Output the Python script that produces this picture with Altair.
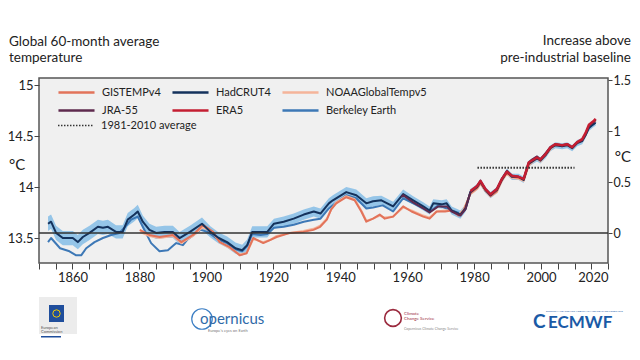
import altair as alt
import pandas as pd

# ---------------- data ----------------
# legend order (Vega fills the 2-row legend column by column)
series_order = ["GISTEMPv4", "JRA-55", "HadCRUT4", "ERA5", "NOAAGlobalTempv5", "Berkeley Earth"]
series_colors = ["#e2735a", "#5e2a4e", "#14325c", "#c41e32", "#f5b49a", "#3d78b6"]

post_years = [1980.9, 1981.9, 1983.4, 1984.9, 1986.8, 1988.3, 1989.8, 1991.3, 1993.3, 1994.8,
              1996.3, 1997.3, 1998.8, 1999.8, 2001.3, 2002.8, 2004.3, 2006.3, 2007.8, 2009.3,
              2010.8, 2012.3, 2013.3, 2014.3, 2015.8, 2016.3]

had_years = [1852.7, 1853.6, 1855.1, 1857.1, 1860.1, 1861.6, 1863.1, 1865.1, 1867.6, 1869.1,
             1870.6, 1873.0, 1875.0, 1876.5, 1878.5, 1879.5, 1881.0, 1883.0, 1885.0, 1887.5,
             1890.0, 1892.0, 1895.1, 1898.7, 1901.2, 1903.7, 1906.2, 1908.7, 1910.7, 1912.2,
             1913.7, 1916.2, 1918.2, 1920.2, 1923.1, 1926.1, 1929.1, 1932.1, 1934.1, 1936.6,
             1937.8, 1941.8, 1944.8, 1947.8, 1949.8, 1952.3, 1955.8, 1958.8, 1961.8, 1964.8,
             1966.7, 1967.8, 1970.3, 1971.8, 1973.3, 1975.9, 1977.4, 1978.9] + post_years
had_temp = [13.64, 13.66, 13.55, 13.50, 13.50, 13.46, 13.51, 13.55, 13.61, 13.60,
            13.61, 13.56, 13.56, 13.68, 13.73, 13.76, 13.66, 13.58, 13.55, 13.56,
            13.56, 13.50, 13.56, 13.64, 13.56, 13.50, 13.46, 13.40, 13.38, 13.43,
            13.56, 13.56, 13.56, 13.64, 13.66, 13.69, 13.73, 13.76, 13.74, 13.84,
            13.87, 13.95, 13.92, 13.84, 13.86, 13.87, 13.81, 13.93, 13.87, 13.81,
            13.77, 13.84, 13.83, 13.84, 13.77, 13.73, 13.79, 13.95,
            14.00, 14.05, 13.97, 13.92, 13.97, 14.07, 14.15, 14.10, 14.10, 14.07,
            14.23, 14.25, 14.28, 14.26, 14.31, 14.38, 14.41, 14.40, 14.41, 14.38,
            14.43, 14.45, 14.51, 14.58, 14.62, 14.63]
had_unc = [0.07, 0.07, 0.07, 0.07, 0.07, 0.07, 0.07, 0.07, 0.07, 0.07,
           0.07, 0.065, 0.065, 0.065, 0.065, 0.065, 0.06, 0.06, 0.06, 0.06,
           0.06, 0.06, 0.06, 0.06, 0.055, 0.055, 0.055, 0.055, 0.055, 0.055,
           0.055, 0.055, 0.055, 0.05, 0.05, 0.05, 0.05, 0.05, 0.05, 0.05,
           0.05, 0.05, 0.055, 0.05, 0.05, 0.045, 0.045, 0.045, 0.04, 0.04,
           0.04, 0.04, 0.04, 0.04, 0.04, 0.04, 0.035, 0.03,
           0.03, 0.03, 0.03, 0.03, 0.03, 0.03, 0.03, 0.03, 0.03, 0.03,
           0.03, 0.03, 0.03, 0.03, 0.03, 0.03, 0.03, 0.03, 0.03, 0.03,
           0.03, 0.03, 0.03, 0.03, 0.03, 0.03]

bk_years = [1852.7, 1853.6, 1856.3, 1859.1, 1861.1, 1862.6, 1864.1, 1866.6, 1869.1, 1871.6,
            1874.0, 1875.5, 1877.5, 1879.5, 1881.0, 1883.5, 1886.0, 1888.5, 1891.0, 1893.0,
            1894.2, 1898.2, 1900.4, 1903.7, 1906.2, 1908.7, 1910.7, 1912.2, 1913.7, 1916.2,
            1918.2, 1920.2, 1923.1, 1926.1, 1929.1, 1932.1, 1934.1, 1936.6, 1937.8, 1941.8,
            1944.8, 1947.8, 1949.8, 1952.7, 1955.8, 1958.8, 1961.8, 1964.8, 1966.7, 1969.3,
            1971.8, 1973.3, 1975.9, 1977.4, 1978.9] + post_years
bk_temp = [13.46, 13.50, 13.40, 13.37, 13.33, 13.33, 13.40, 13.46, 13.50, 13.53,
           13.55, 13.60, 13.68, 13.71, 13.61, 13.45, 13.37, 13.38, 13.45, 13.43,
           13.48, 13.58, 13.56, 13.48, 13.45, 13.39, 13.37, 13.42, 13.54, 13.53,
           13.54, 13.60, 13.61, 13.63, 13.66, 13.68, 13.69, 13.79, 13.82, 13.92,
           13.89, 13.79, 13.80, 13.82, 13.76, 13.89, 13.84, 13.79, 13.76, 13.82,
           13.79, 13.77, 13.74, 13.78, 13.95,
           14.01, 14.04, 13.96, 13.93, 13.98, 14.08, 14.14, 14.11, 14.09, 14.08,
           14.22, 14.26, 14.29, 14.27, 14.32, 14.39, 14.41, 14.41, 14.42, 14.39,
           14.43, 14.46, 14.51, 14.59, 14.62, 14.64]

gis_years = [1880.1, 1883.0, 1886.0, 1890.0, 1892.5, 1896.0, 1899.0, 1902.0, 1904.0, 1907.0,
             1910.0, 1912.0, 1914.0, 1917.0, 1919.0, 1921.0, 1925.0, 1929.0, 1932.0, 1934.0,
             1936.0, 1937.3, 1938.8, 1941.8, 1944.3, 1946.3, 1947.8, 1949.8, 1951.8, 1953.3,
             1955.8, 1958.8, 1961.3, 1964.8, 1966.7, 1968.8, 1971.3, 1973.3, 1975.4, 1976.9,
             1978.9] + post_years
gis_temp = [13.58, 13.53, 13.51, 13.53, 13.46, 13.53, 13.63, 13.56, 13.46, 13.41,
            13.33, 13.35, 13.50, 13.45, 13.48, 13.51, 13.55, 13.56, 13.58, 13.61,
            13.68, 13.78, 13.84, 13.90, 13.87, 13.76, 13.66, 13.69, 13.73, 13.69,
            13.71, 13.81, 13.76, 13.71, 13.69, 13.76, 13.76, 13.77, 13.72, 13.77,
            13.94,
            13.99, 14.04, 13.97, 13.91, 13.96, 14.07, 14.14, 14.10, 14.09, 14.07,
            14.22, 14.25, 14.29, 14.26, 14.32, 14.38, 14.42, 14.41, 14.42, 14.39,
            14.44, 14.46, 14.52, 14.60, 14.64, 14.66]

noaa_years = gis_years
noaa_temp = [13.56, 13.52, 13.50, 13.52, 13.45, 13.52, 13.61, 13.55, 13.46, 13.40,
             13.34, 13.35, 13.49, 13.46, 13.48, 13.52, 13.55, 13.57, 13.59, 13.62,
             13.69, 13.78, 13.85, 13.91, 13.88, 13.77, 13.67, 13.69, 13.72, 13.70,
             13.71, 13.80, 13.77, 13.72, 13.70, 13.76, 13.77, 13.77, 13.73, 13.78,
             13.93,
             13.98, 14.03, 13.96, 13.91, 13.95, 14.06, 14.13, 14.09, 14.08, 14.06,
             14.21, 14.24, 14.28, 14.25, 14.31, 14.37, 14.41, 14.40, 14.41, 14.38,
             14.43, 14.45, 14.51, 14.59, 14.63, 14.65]

jra_years = [1958.3, 1958.8, 1961.8, 1964.8, 1966.7, 1969.3, 1971.8, 1973.3, 1975.9, 1977.4,
             1978.9] + post_years
jra_temp = [13.90, 13.92, 13.85, 13.79, 13.75, 13.81, 13.81, 13.76, 13.72, 13.78,
            13.95,
            14.01, 14.06, 13.98, 13.92, 13.98, 14.08, 14.16, 14.11, 14.10, 14.08,
            14.24, 14.27, 14.30, 14.27, 14.33, 14.39, 14.42, 14.41, 14.42, 14.39,
            14.44, 14.46, 14.52, 14.60, 14.64, 14.66]

era_years = [1978.9] + post_years
era_temp = [13.96,
            14.01, 14.06, 13.98, 13.93, 13.98, 14.08, 14.15, 14.11, 14.10, 14.08,
            14.24, 14.26, 14.29, 14.27, 14.32, 14.39, 14.42, 14.41, 14.42, 14.39,
            14.44, 14.47, 14.53, 14.61, 14.65, 14.67]

avg_label = "1981-2010 average"
avg_start, avg_end, avg_value = 1981, 2010, 14.19

x_ticks = list(range(1850, 2021, 5))
left_ticks = [13.5, 14, 14.5, 15]
right_ticks = [0, 0.5, 1, 1.5]
baseline_zero = [0.0]

# ---------------- tables ----------------
rows = []
for name, yrs, vals in [("HadCRUT4", had_years, had_temp), ("Berkeley Earth", bk_years, bk_temp),
                        ("GISTEMPv4", gis_years, gis_temp), ("NOAAGlobalTempv5", noaa_years, noaa_temp),
                        ("JRA-55", jra_years, jra_temp), ("ERA5", era_years, era_temp)]:
    for yv, tv in zip(yrs, vals):
        rows.append({"series": name, "year": yv, "temp": tv})
df = pd.DataFrame(rows)
band = pd.DataFrame({"year": had_years,
                     "lo": [t - u for t, u in zip(had_temp, had_unc)],
                     "hi": [t + u for t, u in zip(had_temp, had_unc)]})
avg_df = pd.DataFrame({"x": [avg_start], "x2": [avg_end], "y": [avg_value], "label": [avg_label]})
zero_df = pd.DataFrame({"anom": baseline_zero})

FONT = "Lato"
W, H = 569, 185
xs = alt.Scale(domain=[1850, 2020], nice=False, zero=False)
ys = alt.Scale(domain=[13.255, 15.069], nice=False, zero=False)
x_axis = alt.Axis(values=x_ticks, format="d", title=None,
                  labelExpr="datum.value % 20 === 0 ? datum.label : ''",
                  labelPadding=2)
y_axis = alt.Axis(values=left_ticks, format="~g", title=None, labelPadding=1, tickSize=5)

color_scale = alt.Scale(domain=series_order, range=series_colors)
color_legend = alt.Legend(title=None, orient="none", legendX=18, legendY=8, columns=3,
                          symbolType="stroke", symbolSize=1300, symbolStrokeWidth=2.5,
                          clipHeight=13, rowPadding=5, columnPadding=10, labelOffset=6,
                          labelFont=FONT, labelFontSize=11, labelColor="#222")


def line_layer(name, width):
    return alt.Chart(df).transform_filter(alt.datum.series == name).mark_line(
        strokeWidth=width, strokeJoin="round"
    ).encode(
        x=alt.X("year:Q", scale=xs, axis=x_axis),
        y=alt.Y("temp:Q", scale=ys, axis=y_axis),
        color=alt.Color("series:N", scale=color_scale, legend=color_legend),
    )


band_layer = alt.Chart(band).mark_area(color="#8fc2e7", opacity=0.95).encode(
    x=alt.X("year:Q", scale=xs, axis=x_axis),
    y=alt.Y("lo:Q", scale=ys, axis=y_axis),
    y2="hi:Q",
)

avg_layer = alt.Chart(avg_df).mark_rule(color="#333333", strokeWidth=2).encode(
    x=alt.X("x:Q", scale=xs, axis=x_axis),
    x2="x2:Q",
    y=alt.Y("y:Q", scale=ys, axis=y_axis),
    strokeDash=alt.StrokeDash("label:N", scale=alt.Scale(domain=[avg_label], range=[[1.5, 1.5]]),
                              legend=alt.Legend(title=None, orient="none", legendX=18, legendY=41,
                                                symbolType="stroke", symbolSize=1300,
                                                symbolStrokeWidth=1.5, symbolStrokeColor="#333",
                                                clipHeight=13, labelOffset=6, labelFont=FONT,
                                                labelFontSize=11, labelColor="#222")),
)

main = alt.layer(
    band_layer,
    line_layer("Berkeley Earth", 2),
    line_layer("NOAAGlobalTempv5", 2),
    line_layer("GISTEMPv4", 2),
    line_layer("HadCRUT4", 2),
    line_layer("JRA-55", 2),
    line_layer("ERA5", 2.5),
    avg_layer,
)

zero_layer = alt.Chart(zero_df).mark_rule(color="#333333", strokeWidth=1.5).encode(
    y=alt.Y("anom:Q", scale=alt.Scale(domain=[-0.294, 1.52], nice=False, zero=False),
            axis=alt.Axis(orient="right", values=right_ticks, format="~g", title=None,
                          labelPadding=1, tickSize=4, labelFontSize=12.5))
)

one = pd.DataFrame({"k": [0]})


def txt(s, px, py, size=14, align="left", color="#222", weight="normal"):
    # page coordinates -> plot coordinates (plot origin at page 39,78)
    return alt.Chart(one).mark_text(text=s, align=align, baseline="alphabetic", fontSize=size, font=FONT,
                                    color=color, fontWeight=weight).encode(
        x=alt.value(px - 39), y=alt.value(py - 78))


def box(x1, x2, y1, y2, color):
    return alt.Chart(one).mark_rect(color=color).encode(
        x=alt.value(x1 - 39), x2=alt.value(x2 - 39), y=alt.value(y1 - 78), y2=alt.value(y2 - 78))


def ring(px, py, size, color, sw=1.2):
    return alt.Chart(one).mark_point(shape="circle", size=size, filled=False, color=color,
                                     strokeWidth=sw, opacity=1).encode(
        x=alt.value(px - 39), y=alt.value(py - 78))


decor = [
    txt("Global 60-month average", 9, 46, 13.5),
    txt("temperature", 9, 62, 13.5),
    txt("Increase above", 631, 45, 13.5, align="right"),
    txt("pre-industrial baseline", 631, 62, 13.5, align="right"),
    txt("°C", 9, 170, 15),
    txt("°C", 631, 162, 15, align="right"),
    # logos (approximations)
    box(39, 77, 297, 334, "#ececec"),
    box(49, 64, 305, 322, "#1f4e9c"),
    ring(56.5, 313.5, 55, "#f2cc00", 1),
    txt("European", 41, 329, 4, color="#555"),
    txt("Commission", 41, 333, 4, color="#555"),
    box(41, 61, 336, 337.5, "#1f4e9c"),
    ring(202, 319, 420, "#3b7ec4", 1.2),
    txt("opernicus", 200, 324, 15, color="#2f6aa8"),
    txt("Europe's eyes on Earth", 208, 332, 4, color="#777"),
    ring(393, 318, 280, "#9b2a3e", 1.6),
    txt("Climate", 404, 315, 4.5, color="#9b2a3e"),
    txt("Change Service", 404, 320, 4.5, color="#9b2a3e"),
    txt("Copernicus Climate Change Service", 404, 330, 3.5, color="#888"),
    txt("C", 533, 328, 19, color="#1a5aa6", weight="bold"),
    txt("ECMWF", 548, 328, 17, color="#1a5aa6", weight="bold"),
    txt("EUROPEAN CENTRE FOR MEDIUM-RANGE WEATHER FORECASTS", 546, 312, 2.5, color="#1a5aa6"),
]

chart = alt.layer(main, zero_layer, *decor).resolve_scale(y="independent").properties(
    width=W, height=H,
    autosize=alt.AutoSizeParams(type="none"),
    padding={"left": 31, "top": 70, "right": 24, "bottom": 89},
    background="white",
).configure_view(
    fill="#f0f0f0", stroke="#555555", strokeWidth=1.5
).configure_axis(
    labelFont=FONT, labelFontSize=13, labelColor="#222222", tickColor="#444444",
    tickSize=6, tickWidth=1, domain=False, grid=False
)

chart.save("out.html", embed_options={"renderer": "svg", "actions": False})
